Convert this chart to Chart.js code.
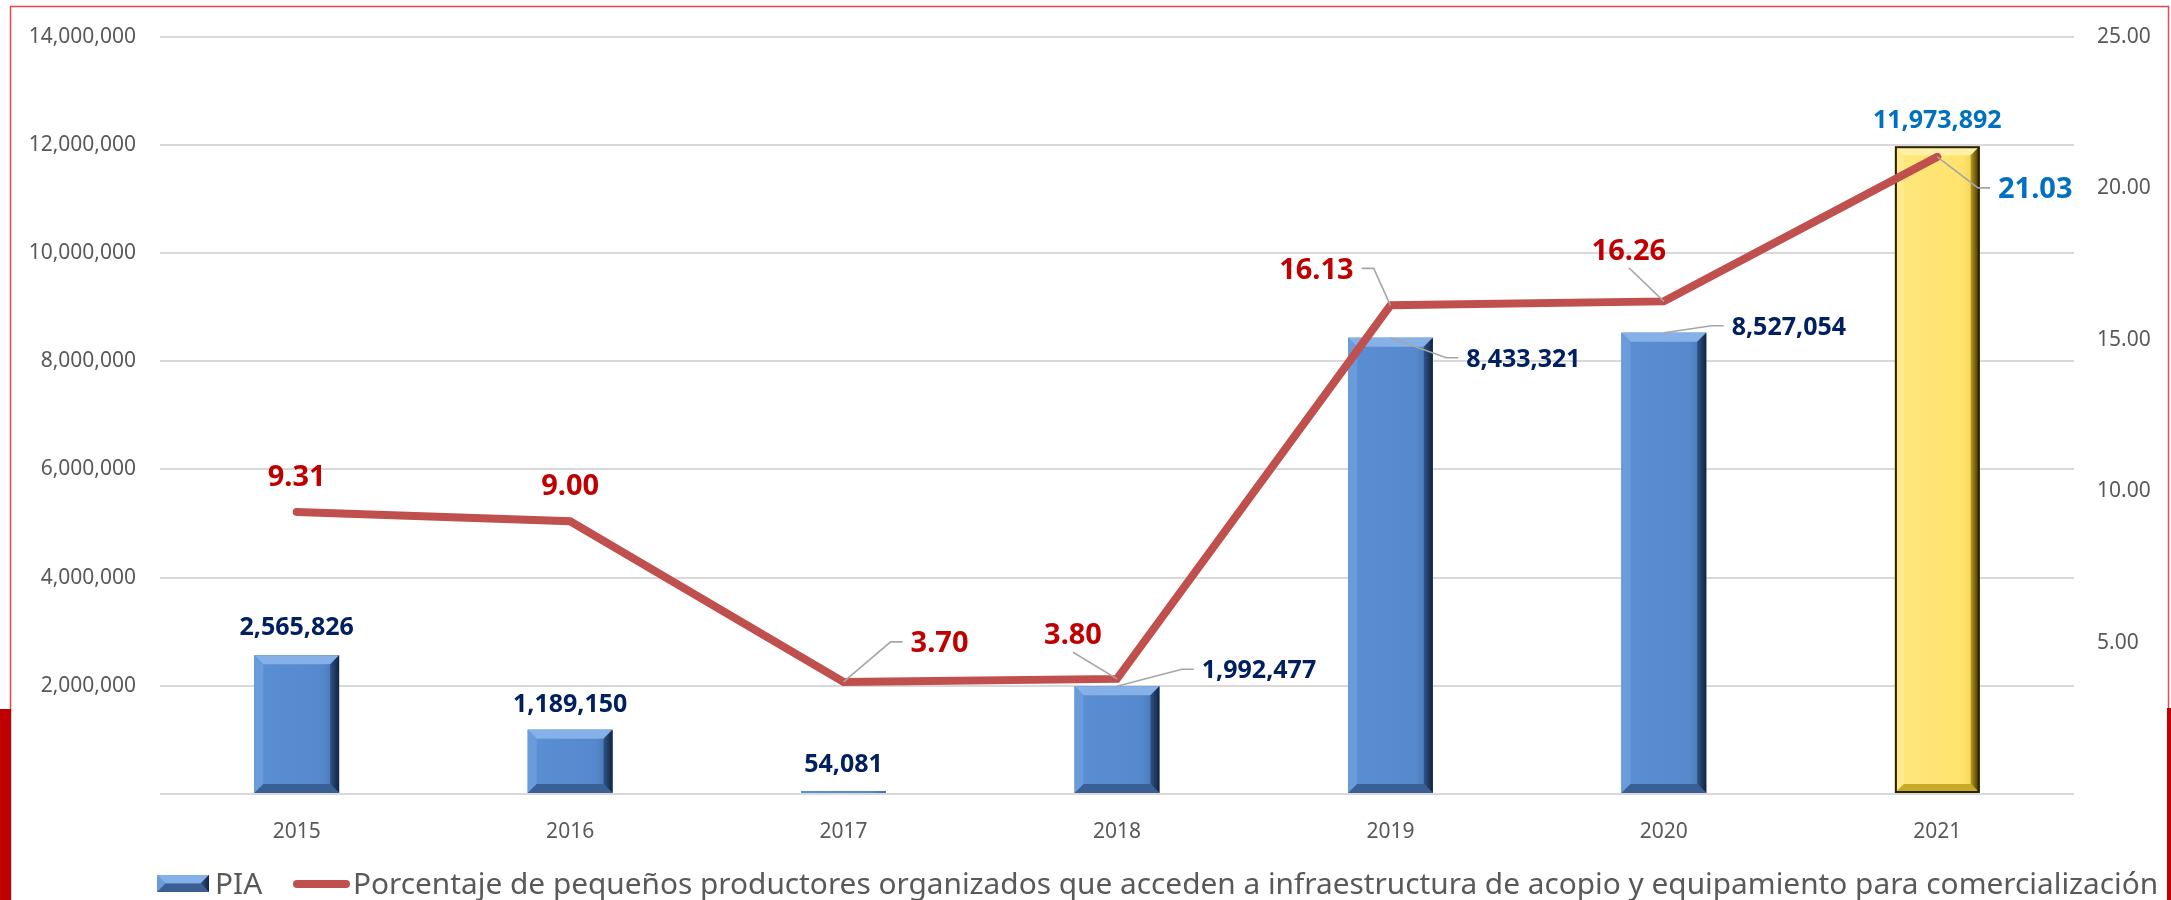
<!DOCTYPE html>
<html>
<head>
<meta charset="utf-8">
<script src="https://cdn.jsdelivr.net/npm/chart.js@4.4.0/dist/chart.umd.min.js"></script>
<style>
  html, body { margin: 0; padding: 0; background: #fff; }
  #wrap { width: 2171px; height: 900px; }
</style>
</head>
<body>
<div id="wrap"><canvas id="myChart" width="2171" height="900"></canvas></div>
<script>
// data
var years = ['2015', '2016', '2017', '2018', '2019', '2020', '2021'];
var piaValues = [2565826, 1189150, 54081, 1992477, 8433321, 8527054, 11973892];
var porcentajeValues = [9.31, 9.00, 3.70, 3.80, 16.13, 16.26, 21.03];
var leftTickValues = [0, 2000000, 4000000, 6000000, 8000000, 10000000, 12000000, 14000000];
var rightTickValues = [0, 5, 10, 15, 20, 25];
var piaName = 'PIA';
var porcentajeName = 'Porcentaje de pequeños productores organizados que acceden a infraestructura de acopio y equipamiento para comercialización';

// where each value label sits relative to its mark: [dx, dy, leader]
var lineLabelPos = [[0, -36, ''], [0, -37, ''], [96, -40, 'L'], [-44, -45, 'B'], [-74, -37, 'R'], [-35, -52, 'B'], [98, 31, 'L']];
var barLabelPos = [[0, -29, ''], [0, -27, ''], [0, -28, ''], [142, -17, 'L'], [133, 20, 'L'], [125, -7, 'L'], [0, -27, '']];

var FONT = "'Noto Sans', 'DejaVu Sans', sans-serif";
var highlightIndex = years.length - 1;

function fmtInt(v) { return Number(v).toLocaleString('en-US'); }

function bevelRect(ctx, l, t, r, b, gold) {
    var w = r - l, h = b - t;
    var bv = Math.min(9, h / 2, w / 2);
    ctx.save();
    // face
    var face = ctx.createLinearGradient(l, 0, r, 0);
    if (gold) {
        face.addColorStop(0, '#FFE77E'); face.addColorStop(0.8, '#FFE36C'); face.addColorStop(1, '#E8C94A');
    } else {
        face.addColorStop(0, '#5B8FD3'); face.addColorStop(0.8, '#5588CC'); face.addColorStop(1, '#4470AE');
    }
    ctx.fillStyle = face;
    ctx.fillRect(l, t, w, h);
    if (bv >= 1) {
        // top bevel
        ctx.beginPath();
        ctx.moveTo(l, t); ctx.lineTo(r, t); ctx.lineTo(r - bv, t + bv); ctx.lineTo(l + bv, t + bv); ctx.closePath();
        ctx.fillStyle = gold ? '#FFF2A8' : '#86B0E8';
        ctx.fill();
        // left bevel
        ctx.beginPath();
        ctx.moveTo(l, t); ctx.lineTo(l + bv, t + bv); ctx.lineTo(l + bv, b - bv); ctx.lineTo(l, b); ctx.closePath();
        ctx.fillStyle = gold ? '#FFEB8C' : '#6A9BDB';
        ctx.fill();
        // right bevel
        var rg = ctx.createLinearGradient(r - bv, 0, r, 0);
        if (gold) { rg.addColorStop(0, '#B89A20'); rg.addColorStop(1, '#3A2E00'); }
        else { rg.addColorStop(0, '#2F5487'); rg.addColorStop(1, '#12233D'); }
        ctx.beginPath();
        ctx.moveTo(r, t); ctx.lineTo(r, b); ctx.lineTo(r - bv, b - bv); ctx.lineTo(r - bv, t + bv); ctx.closePath();
        ctx.fillStyle = rg;
        ctx.fill();
        // bottom bevel
        ctx.beginPath();
        ctx.moveTo(l, b); ctx.lineTo(r, b); ctx.lineTo(r - bv, b - bv); ctx.lineTo(l + bv, b - bv); ctx.closePath();
        ctx.fillStyle = gold ? '#C9A92A' : '#3A5F94';
        ctx.fill();
    }
    if (gold) {
        ctx.strokeStyle = '#2B2300';
        ctx.lineWidth = 2;
        ctx.strokeRect(l + 1, t + 1, w - 2, h - 2);
    }
    ctx.restore();
}

var bevelPlugin = {
    id: 'bevelBars',
    afterDatasetDraw: function(chart, args) {
        if (args.index !== 0) return;
        var ctx = chart.ctx;
        args.meta.data.forEach(function(el, i) {
            var p = el.getProps(['x', 'y', 'base', 'width'], true);
            bevelRect(ctx, p.x - p.width / 2, p.y, p.x + p.width / 2, p.base, i === highlightIndex);
        });
    }
};

function drawValueLabel(ctx, text, px, py, pos, size, color) {
    ctx.font = 'bold ' + size + 'px ' + FONT;
    var w = ctx.measureText(text).width;
    var cap = size * 0.714;
    var cx = px + pos[0], cy = py + pos[1];
    var left = cx - w / 2, right = cx + w / 2;
    if (pos[2]) {
        ctx.save();
        ctx.strokeStyle = '#A6A6A6';
        ctx.lineWidth = 1.6;
        ctx.beginPath();
        if (pos[2] === 'L') {
            ctx.moveTo(px, py); ctx.lineTo(left - 20, cy); ctx.lineTo(left - 8, cy);
        } else if (pos[2] === 'R') {
            ctx.moveTo(px, py); ctx.lineTo(right + 20, cy); ctx.lineTo(right + 8, cy);
        } else {
            ctx.moveTo(cx, cy + cap / 2 + 8); ctx.lineTo(px, py);
        }
        ctx.stroke();
        ctx.restore();
    }
    ctx.fillStyle = color;
    ctx.textAlign = 'center';
    ctx.textBaseline = 'alphabetic';
    ctx.fillText(text, cx, cy + cap / 2);
}

var labelPlugin = {
    id: 'valueLabels',
    afterDraw: function(chart) {
        var ctx = chart.ctx;
        ctx.save();
        var barMeta = chart.getDatasetMeta(0);
        barMeta.data.forEach(function(el, i) {
            var color = i === highlightIndex ? '#0070C0' : '#002060';
            drawValueLabel(ctx, fmtInt(piaValues[i]), el.x, el.y, barLabelPos[i], 25, color);
        });
        var lineMeta = chart.getDatasetMeta(1);
        lineMeta.data.forEach(function(el, i) {
            var color = i === highlightIndex ? '#0070C0' : '#C00000';
            drawValueLabel(ctx, porcentajeValues[i].toFixed(2), el.x, el.y, lineLabelPos[i], 29, color);
        });

        // legend
        ctx.font = '29.8px ' + FONT;
        ctx.fillStyle = '#595959';
        ctx.textAlign = 'left';
        bevelRect(ctx, 157, 875, 209, 892, false);
        ctx.fillText(piaName, 215, 894);
        ctx.strokeStyle = '#C0504D';
        ctx.lineWidth = 8;
        ctx.lineCap = 'round';
        ctx.beginPath();
        ctx.moveTo(297, 884); ctx.lineTo(346, 884);
        ctx.stroke();
        ctx.fillText(porcentajeName, 353, 894);

        // frame
        ctx.lineCap = 'butt';
        ctx.strokeStyle = '#E8474B';
        ctx.lineWidth = 1.5;
        ctx.beginPath();
        ctx.moveTo(10.5, 905); ctx.lineTo(10.5, 6.5); ctx.lineTo(2168.5, 6.5); ctx.lineTo(2168.5, 905);
        ctx.stroke();
        ctx.fillStyle = '#C00000';
        ctx.fillRect(0, 709, 11, 191);
        ctx.fillRect(2167, 708, 4, 192);
        ctx.restore();
    }
};

var ctx = document.getElementById('myChart').getContext('2d');
var myChart = new Chart(ctx, {
    data: {
        labels: years,
        datasets: [{
            type: 'bar',
            label: piaName,
            data: piaValues,
            yAxisID: 'y',
            order: 2,
            backgroundColor: '#5588CC',
            barPercentage: 0.31,
            categoryPercentage: 1
        }, {
            type: 'line',
            label: porcentajeName,
            data: porcentajeValues,
            yAxisID: 'y1',
            order: 1,
            borderColor: '#C0504D',
            borderWidth: 8,
            borderCapStyle: 'round',
            borderJoinStyle: 'miter',
            pointRadius: 0,
            tension: 0,
            fill: false
        }]
    },
    options: {
        responsive: false,
        animation: false,
        devicePixelRatio: 1,
        layout: { padding: { top: 35, bottom: 60, left: 0, right: 0 } },
        plugins: {
            legend: { display: false },
            tooltip: { enabled: false }
        },
        scales: {
            x: {
                grid: { display: false },
                border: { display: false },
                ticks: { color: '#595959', font: { family: FONT, size: 21 }, padding: 17 },
                afterFit: function(s) { s.height = 46; }
            },
            y: {
                position: 'left',
                min: leftTickValues[0],
                max: leftTickValues[leftTickValues.length - 1],
                grid: { color: '#D9D9D9', lineWidth: 2, drawTicks: false },
                border: { display: false },
                afterBuildTicks: function(s) { s.ticks = leftTickValues.map(function(v) { return { value: v }; }); },
                ticks: {
                    color: '#595959', font: { family: FONT, size: 21 }, padding: 24,
                    callback: function(v) { return v === 0 ? '' : fmtInt(v); }
                },
                afterFit: function(s) { s.width = 160; }
            },
            y1: {
                position: 'right',
                min: rightTickValues[0],
                max: rightTickValues[rightTickValues.length - 1],
                grid: { display: false, drawTicks: false },
                border: { display: false },
                afterBuildTicks: function(s) { s.ticks = rightTickValues.map(function(v) { return { value: v }; }); },
                ticks: {
                    color: '#595959', font: { family: FONT, size: 21 }, padding: 23,
                    callback: function(v) { return v === 0 ? '' : Number(v).toFixed(2); }
                },
                afterFit: function(s) { s.width = 97; }
            }
        }
    },
    plugins: [bevelPlugin, labelPlugin]
});
</script>
</body>
</html>
